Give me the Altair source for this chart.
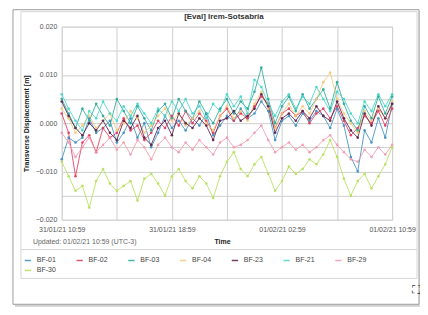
import altair as alt
import pandas as pd

# ---------------- texts ----------------
chart_title = "[Eval] Irem-Sotsabria"
y_title = "Transverse Displacement [m]"
x_title = "Time"
updated_text = "Updated: 01/02/21 10:59 (UTC-3)"

# ---------------- series ----------------
series_names = ["BF-01", "BF-02", "BF-03", "BF-04", "BF-23", "BF-21", "BF-29", "BF-30"]
series_colors = ["#3f8fc0", "#e23a5e", "#2aa89a", "#f3c878", "#5a1f4a", "#45d6c8", "#f29ab0", "#b5e05a"]

start_time = "2021-01-31 10:59"
end_time = "2021-02-01 10:59"
n_points = 49  # half-hourly readings

# values in millimetres
bf01 = [-7.5, -3.0, -4.0, -3.0, 1.0, -2.0, -1.0, 0.5, -4.0, -2.0,
        1.0, -3.0, 0.0, -5.0, -2.0, 1.5, -1.0, 0.5, -1.5, 1.0,
        -0.5, 2.0, -2.5, -0.5, 1.5, 0.5, 3.0, 1.0, 2.0, 4.5,
        2.5, -3.5, 0.5, 1.5, -0.5, 2.0, 0.5, 2.5, 1.5, -1.0,
        3.0, -0.5, -7.0, -10.0, -1.5, -4.0, 1.0, -3.0, 4.0]
bf02 = [2.0, -2.0, -11.0, -4.0, -2.5, -6.0, -1.0, -3.0, -2.0, 1.0,
        -1.5, -0.5, -3.5, -2.0, 0.5, -1.0, 1.5, -0.5, 2.5, 0.0,
        2.0, 0.5, -2.0, 1.5, 3.0, 0.5, 2.0, 1.0, 3.5, 5.5,
        4.0, -1.0, 2.0, 3.0, 1.5, 2.5, 0.0, 2.0, 3.0, 1.0,
        3.5, 0.5, -2.5, -1.0, 1.5, 0.0, 2.5, -0.5, 3.0]
bf03 = [5.0, 2.0, -1.0, 3.0, 0.5, 4.0, 1.5, -0.5, 5.0, 2.5,
        0.0, 3.5, 1.0, -1.5, 2.5, 4.0, 1.0, 5.0, 2.5, 1.0,
        4.5, 2.0, 0.0, 3.0, 5.0, 2.0, 4.5, 3.0, 6.5, 11.5,
        5.0, 0.0, 3.5, 5.5, 2.5, 6.0, 3.0, 5.0, 7.0, 3.0,
        8.5, 4.0, 0.5, -1.5, 3.5, 1.0, 5.5, 2.0, 5.5]
bf04 = [3.0, 1.0, -2.0, -0.5, 1.5, -1.0, 0.5, 2.0, -1.5, 0.0,
        2.5, 1.0, -2.0, -0.5, 1.5, 3.0, 0.5, 2.0, -0.5, 1.0,
        2.5, 0.0, -1.5, 1.5, 3.5, 1.0, 2.5, 0.5, 4.0, 6.5,
        3.0, -1.0, 2.0, 4.0, 1.5, 3.5, 2.0, 5.0, 8.5, 10.5,
        5.0, 2.0, 0.0, -2.0, 2.5, 0.5, 3.0, 1.0, 4.5]
bf23 = [4.5, 1.5, -1.0, -2.5, 0.0, -1.5, 0.5, -2.0, -3.5, 0.5,
        -1.0, 1.5, -3.0, -4.5, -1.0, 0.5, -2.5, 2.0, 0.0, -1.0,
        1.0, -0.5, -3.5, 0.5, 1.0, 2.5, 0.5, 1.5, 3.0, 6.0,
        3.5, -2.0, 1.0, 2.0, 0.5, 2.5, 1.0, 3.5, 1.5, 0.5,
        4.5, 1.0, -1.5, -3.0, 2.0, -0.5, 3.5, 1.0, 4.0]
bf21 = [6.0, 3.0, 0.5, -1.5, 2.5, 1.0, 4.5, 2.0, 0.5, 3.5,
        1.5, 4.0, 2.0, 0.0, 3.0, 1.5, 4.5, 2.5, 5.0, 2.0,
        3.5, 1.0, 4.0, 2.5, 6.0, 3.5, 5.5, 2.0, 9.0, 7.5,
        4.0, 1.5, 4.5, 6.0, 3.0, 5.5, 4.0, 7.5, 5.0, 2.5,
        6.5, 5.0, 2.0, 0.0, 4.5, 2.5, 6.0, 3.5, 6.0]
bf29 = [-2.0, -4.0, -7.0, -5.0, -3.0, -6.0, -4.5, -3.0, -5.5, -4.0,
        -6.5, -3.5, -5.0, -7.5, -4.5, -3.0, -5.0, -6.0, -4.0, -5.5,
        -3.5, -5.0, -6.5, -4.0, -3.0, -5.0, -4.5, -3.5, -2.0, -0.5,
        -3.5, -6.0, -5.0, -4.0, -5.5, -4.5, -6.0, -5.0, -3.5, -2.5,
        -4.5, -6.0, -7.5, -8.0, -5.5, -7.0, -5.0, -6.5, -4.5]
bf30 = [-8.0, -11.0, -14.0, -13.0, -17.5, -12.0, -9.5, -12.5, -14.0, -13.0,
        -12.0, -16.0, -11.5, -10.5, -12.5, -15.0, -11.0, -9.5, -12.0, -13.5,
        -11.0, -12.5, -15.5, -11.0, -8.0, -6.0, -9.5, -11.0, -8.5, -7.0,
        -10.5, -14.0, -12.0, -9.0, -10.5, -9.5, -7.5, -8.5, -6.5, -3.5,
        -7.0, -11.5, -15.0, -12.0, -10.5, -13.5, -11.0, -8.5, -5.0]

series_values = [bf01, bf02, bf03, bf04, bf23, bf21, bf29, bf30]

y_ticks = [-0.020, -0.015, -0.010, -0.005, 0.000, 0.005, 0.010, 0.015, 0.020]
x_ticks = ["2021-01-31 10:59", "2021-01-31 14:59", "2021-01-31 18:59", "2021-01-31 22:59",
           "2021-02-01 02:59", "2021-02-01 06:59", "2021-02-01 10:59"]

# ---------------- table ----------------
times = pd.date_range(start_time, periods=n_points, freq="30min")
rows = []
for name, vals in zip(series_names, series_values):
    for t, v in zip(times, vals):
        rows.append({"time": t.strftime("%Y-%m-%dT%H:%M:%S"), "series": name, "value": v / 1000.0})
df = pd.DataFrame(rows)

FONT = "Liberation Sans"


def dt(s):
    ts = pd.Timestamp(s)
    return alt.DateTime(year=ts.year, month=ts.month, date=ts.day, hours=ts.hour, minutes=ts.minute)


x_enc = alt.X(
    "time:T",
    scale=alt.Scale(domain=[dt(start_time), dt(end_time)]),
    axis=alt.Axis(
        values=[dt(s) for s in x_ticks],
        labelExpr="round(datum.index*6) % 2 == 0 ? timeFormat(datum.value, '%d/%m/%y %H:%M') : ''",
        title=x_title,
        titleFontWeight="bold",
        titleFontSize=7,
        titleColor="#222",
        titleX=161,
        titleY=22,
        titleBaseline="middle",
        labelFontSize=7,
        labelColor="#555",
        labelPadding=6,
        labelFlush=False,
        labelBound=False,
        ticks=False,
        domain=False,
        gridColor="#cfcfcf",
        labelOverlap=False,
    ),
)
y_enc = alt.Y(
    "value:Q",
    scale=alt.Scale(domain=[-0.02, 0.02], nice=False),
    axis=alt.Axis(
        values=y_ticks,
        labelExpr="abs(round(datum.value*1000)) % 10 == 0 ? format(datum.value, '.3f') : ''",
        title=y_title,
        titleFontWeight="bold",
        titleFontSize=7,
        titleColor="#222",
        titlePadding=6,
        labelFontSize=7,
        labelColor="#555",
        labelPadding=5,
        ticks=False,
        domain=False,
        gridColor="#cfcfcf",
    ),
)

lines = alt.Chart(df).mark_line(
    strokeWidth=1,
    opacity=0.85,
    point=alt.OverlayMarkDef(size=7, filled=True, opacity=0.9),
).encode(
    x=x_enc,
    y=y_enc,
    color=alt.Color(
        "series:N",
        scale=alt.Scale(domain=series_names, range=series_colors),
        sort=series_names,
        legend=alt.Legend(
            title=None,
            orient="none",
            legendX=-38,
            legendY=231,
            direction="horizontal",
            columns=7,
            columnPadding=16,
            rowPadding=3,
            symbolType="stroke",
            symbolStrokeWidth=1.5,
            symbolSize=40,
            labelFontSize=7,
            labelColor="#444",
            labelOffset=5,
        ),
    ),
)

one = pd.DataFrame({"k": [0]})

shadow_bottom = alt.Chart(one).mark_rule(stroke="#cfcfcf", strokeWidth=2).encode(
    x=alt.value(-47), x2=alt.value(361), y=alt.value(280.5)
)
shadow_right = alt.Chart(one).mark_rule(stroke="#cfcfcf", strokeWidth=2).encode(
    x=alt.value(360.5), y=alt.value(-15), y2=alt.value(281)
)
outer_frame = alt.Chart(one).mark_rect(fillOpacity=0, stroke="#9a9a9a", strokeWidth=1).encode(
    x=alt.value(-49), x2=alt.value(359), y=alt.value(-17), y2=alt.value(279)
)
inner_frame = alt.Chart(one).mark_rect(fillOpacity=0, stroke="#d6d6d6", strokeWidth=1).encode(
    x=alt.value(-41), x2=alt.value(357), y=alt.value(-15), y2=alt.value(253)
)
separator = alt.Chart(one).mark_rule(stroke="#d6d6d6", strokeWidth=1).encode(
    x=alt.value(-41), x2=alt.value(357), y=alt.value(224)
)
title_mark = alt.Chart(pd.DataFrame({"t": [chart_title]})).mark_text(
    align="center", baseline="middle", fontSize=8, fontWeight="bold", color="#333", font=FONT
).encode(x=alt.value(163), y=alt.value(-10), text="t:N")
updated = alt.Chart(pd.DataFrame({"t": [updated_text]})).mark_text(
    align="left", baseline="middle", fontSize=7, color="#666", font=FONT
).encode(x=alt.value(-29), y=alt.value(216), text="t:N")
fullscreen = alt.Chart(pd.DataFrame({"t": ["⛶"]})).mark_text(
    align="center", baseline="middle", fontSize=12, color="#333", font="DejaVu Sans"
).encode(x=alt.value(356), y=alt.value(265), text="t:N")

chart = alt.layer(
    shadow_bottom, shadow_right, outer_frame, inner_frame, separator, title_mark, updated, fullscreen, lines
).properties(
    width=332,
    height=194,
    autosize=alt.AutoSizeParams(type="none"),
    padding={"left": 54, "top": 18, "right": 28, "bottom": 88},
).configure_view(
    fill="#ebebeb", stroke="#bdbdbd"
).configure(
    font=FONT, background="white"
)

chart.save("out.html", embed_options={"renderer": "svg", "actions": False})
